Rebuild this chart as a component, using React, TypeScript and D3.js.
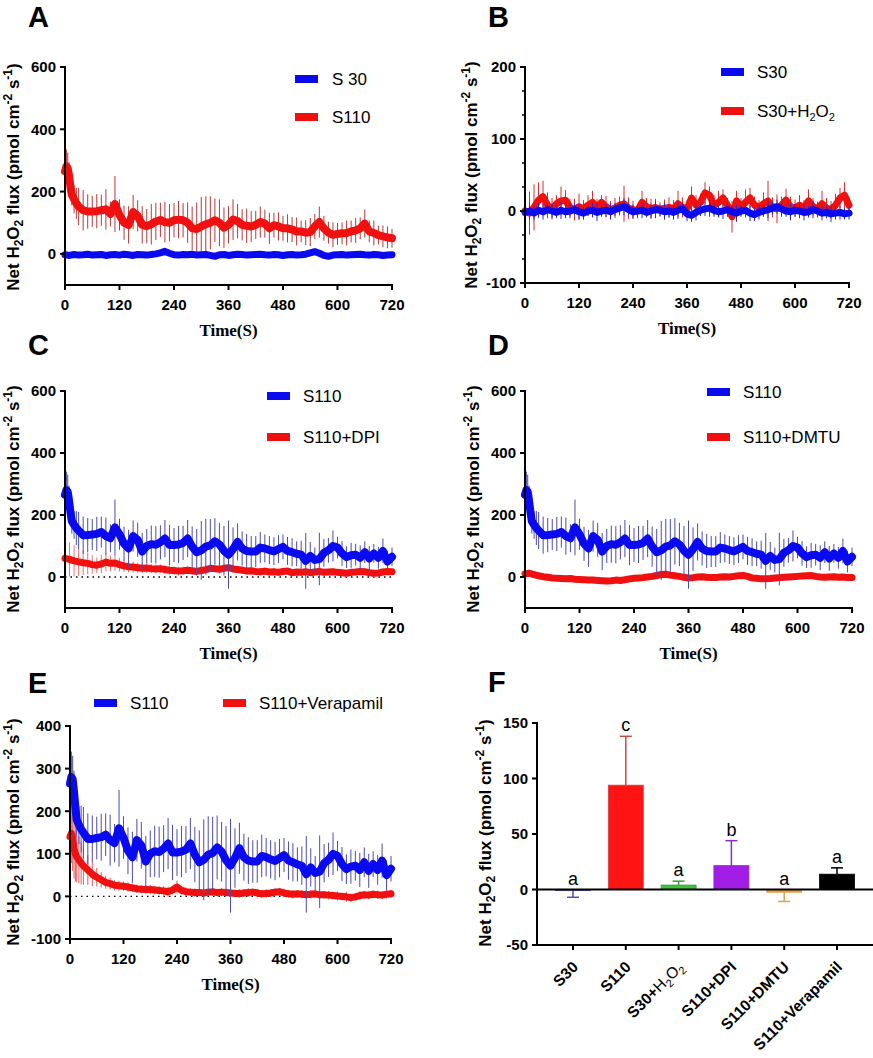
import React from 'react';
import * as d3 from 'd3';

const FONT = "'Liberation Sans', Arial, Helvetica, sans-serif";
const SERIF = "'Liberation Serif', 'Times New Roman', serif";

// time grids (s)
const T_FINE = [0, 3, 6, 9, 12, 15, 20, 25, 30, ...d3.range(40, 721, 10)];
const T10 = d3.range(0, 721, 10);
const X_TICKS = [0, 120, 240, 360, 480, 600, 720];

// Panel A
const A_S30 = [
  -3, -5, -2, -4, -3, -1, -4, -3, -2, -5,
  -3, -2, -4, -1, -3, -5, -2, -3, -4, -2,
  0, 3, 8, 2, -3, -4, -2, -3, -1, -4,
  -3, -2, -5, -8, -3, -2, -5, -3, -1, -2,
  -4, -3, -2, -1, -3, -4, -2, -3, -5, -3,
  -2, -4, -3, -1, 3, 7, 2, -5, -8, -4,
  -3, -2, -4, -3, -2, -1, -3, -4, -2, -3,
  -5, -4, -3,
];
const A_S110 = [
  265, 280, 275, 250, 215, 190, 175, 162, 152,
  140, 136, 136, 137, 140, 143, 128, 160, 125, 100,
  93, 134, 122, 93, 89, 95, 104, 109, 102, 100,
  108, 110, 108, 100, 82, 80, 88, 95, 100, 108,
  100, 84, 93, 110, 105, 93, 90, 88, 93, 102,
  97, 82, 92, 88, 82, 82, 78, 72, 72, 68,
  70, 88, 102, 82, 68, 61, 64, 66, 67, 72,
  75, 82, 97, 72, 67, 60, 56, 53, 50,
];
const A_S110_SD = [
  60, 55, 50, 45, 40, 35, 45, 50, 60,
  65, 55, 50, 55, 50, 65, 40, 90, 50, 55,
  60, 55, 50, 60, 55, 65, 60, 55, 65, 60,
  55, 60, 55, 65, 70, 85, 95, 90, 85, 70,
  75, 65, 60, 65, 55, 50, 55, 50, 45, 50,
  45, 50, 40, 45, 40, 45, 40, 45, 35, 40,
  45, 40, 50, 40, 35, 40, 35, 35, 40, 35,
  40, 35, 45, 35, 40, 30, 35, 35, 30,
];

// Panel B
const B_S30 = [
  -2, 0, -3, 1, -1, 2, 0, -2, 1, -1,
  0, 2, -1, -3, 0, 1, -2, 0, 1, -1,
  2, 4, 6, 2, -1, 0, 1, -2, 0, 2,
  1, -1, 0, -2, 1, 3, -4, -6, -2, 1,
  3, 4, 1, -1, 0, 2, -1, -3, 0, 1,
  -3, -5, -2, 0, 2, 4, 6, 3, 0, -1,
  1, 0, -2, -1, 2, 0, -3, -2, -4, -3,
  -2, -4, -3,
];
const B_S30_SD = [
  8, 12, 10, 9, 11, 7, 10, 8, 12, 9,
  10, 8, 11, 9, 7, 10, 12, 8, 9, 11,
  9, 10, 12, 8, 10, 9, 11, 7, 10, 12,
  8, 11, 9, 10, 12, 8, 10, 9, 11, 8,
  10, 12, 9, 8, 11, 10, 9, 12, 8, 10,
  11, 9, 10, 8, 12, 9, 10, 11, 8, 12,
  9, 10, 11, 8, 12, 9, 10, 8, 11, 9,
  10, 8, 9,
];
const B_H2O2 = [
  0, -3, 5, 15, 20, 8, 3, 10, 14, 15,
  5, 2, 6, 3, 8, 12, 5, 12, 6, 2,
  4, 8, 10, 4, 2, 0, 12, 6, 3, 5,
  2, 4, 5, 3, 10, 5, 3, 18, 8, 12,
  25, 22, 8, 12, 18, 8, -8, 14, 6, 12,
  18, 8, 5, 10, 14, 5, 3, 8, 15, 6,
  4, 8, 5, 14, 6, 3, 10, 4, 2, 8,
  18, 22, 8,
];
const B_H2O2_SD = [
  15, 30, 32, 25, 22, 18, 15, 12, 20, 14,
  12, 15, 18, 12, 14, 16, 12, 10, 15, 12,
  14, 12, 25, 15, 12, 10, 16, 12, 14, 12,
  10, 12, 14, 12, 18, 14, 12, 16, 14, 12,
  15, 12, 14, 16, 12, 10, 22, 14, 12, 18,
  14, 12, 10, 16, 28, 14, 20, 12, 16, 14,
  12, 14, 10, 16, 12, 10, 18, 14, 12, 16,
  14, 18, 12,
];

// Panels C, D, E (shared S110)
const S110 = [
  265, 280, 275, 245, 210, 180, 168, 158, 150,
  135, 135, 137, 139, 145, 132, 125, 160, 138, 107,
  92, 132, 120, 82, 100, 106, 104, 112, 124, 103,
  103, 105, 110, 124, 98, 80, 86, 98, 102, 115,
  105, 85, 72, 90, 113, 92, 84, 82, 82, 95,
  92, 87, 83, 90, 97, 84, 80, 75, 72, 52,
  68, 55, 58, 78, 86, 100, 95, 76, 64, 70,
  72, 62, 80, 60, 76, 62, 84, 50, 65,
];
const S110_SD = [
  60, 60, 55, 50, 45, 40, 45, 55, 60,
  60, 55, 50, 55, 50, 60, 45, 90, 50, 55,
  60, 50, 55, 60, 55, 60, 60, 55, 60, 65,
  55, 60, 55, 60, 65, 75, 95, 90, 85, 75,
  70, 80, 110, 70, 60, 55, 55, 50, 50, 50,
  45, 45, 45, 45, 40, 45, 45, 40, 45, 90,
  45, 40, 85, 45, 40, 50, 35, 40, 35, 40,
  35, 40, 35, 40, 30, 35, 40, 35, 30,
];
const C_DPI = [
  60, 57, 52, 49, 46, 44, 40, 38, 42, 48,
  44, 45, 40, 36, 33, 32, 30, 28, 29, 27,
  26, 27, 24, 22, 21, 19, 20, 22, 20, 18,
  21, 24, 28, 27, 25, 28, 30, 26, 24, 22,
  19, 20, 18, 17, 19, 16, 17, 15, 18, 19,
  14, 16, 15, 17, 14, 16, 18, 15, 16, 17,
  15, 14, 12, 15, 16, 18, 17, 14, 12, 13,
  16, 18, 17,
];
const C_DPI_SD = [
  55, 55, 50, 45, 40, 35, 30, 25, 30, 30,
  25, 25, 22, 20, 18, 18, 16, 15, 16, 15,
  15, 14, 15, 14, 13, 14, 13, 12, 13, 12,
  12, 13, 12, 12, 13, 12, 12, 11, 12, 12,
  11, 12, 11, 12, 11, 10, 11, 12, 11, 10,
  11, 10, 12, 11, 10, 11, 10, 11, 10, 11,
  10, 11, 10, 11, 10, 11, 10, 10, 11, 10,
  11, 10, 10,
];
const D_DMTU = [
  10, 12, 8, 4, 1, -1, -3, -4, -5, -6,
  -5, -7, -8, -9, -10, -10, -11, -12, -13, -12,
  -10, -11, -9, -6, -4, -3, -2, 0, 2, 5,
  8, 9, 6, 4, 2, -1, -3, -2, 0, 1,
  -1, -2, -2, 0, 1, 0, 2, 4, 5, 2,
  -3, -4, -6, -6, -5, -3, -2, -1, 0, 1,
  2, 3, 4, 5, 2, 0, -1, 0, 1, -1,
  0, -2, -2,
];
const D_DMTU_SD = [
  14, 12, 11, 10, 10, 9, 10, 9, 10, 9,
  10, 9, 10, 9, 10, 9, 10, 9, 10, 9,
  9, 10, 8, 9, 10, 9, 11, 9, 10, 9,
  10, 9, 10, 9, 8, 9, 10, 9, 10, 9,
  10, 9, 10, 9, 10, 9, 10, 9, 10, 9,
  9, 10, 9, 11, 10, 9, 10, 9, 10, 9,
  10, 9, 10, 9, 10, 9, 10, 9, 10, 9,
  10, 9, 10,
];
const E_VER = [
  140, 148, 135, 112, 100, 93, 86, 78, 72,
  62, 52, 45, 39, 33, 30, 26, 25, 24, 22,
  20, 18, 17, 16, 16, 15, 14, 13, 11, 15,
  22, 14, 11, 10, 9, 9, 8, 10, 11, 9,
  10, 9, 8, 7, 7, 8, 9, 10, 8, 6,
  7, 8, 10, 11, 8, 6, 5, 6, 5, 4,
  5, 6, 4, 4, 3, 2, 1, 0, -1, -3,
  -1, 2, 4, 3, 5, 4, 3, 5, 6,
];
const E_VER_SD = [
  60, 70, 75, 70, 65, 60, 55, 50, 45,
  35, 28, 22, 18, 15, 14, 12, 12, 11, 11,
  10, 10, 10, 10, 11, 10, 10, 11, 12, 10,
  15, 10, 10, 9, 10, 9, 10, 9, 10, 9,
  10, 9, 10, 9, 10, 9, 10, 9, 10, 9,
  10, 9, 10, 9, 10, 9, 10, 9, 10, 9,
  10, 9, 10, 9, 10, 9, 10, 9, 12, 10,
  9, 10, 9, 10, 9, 10, 9, 10, 9,
];

// Panel F
const F_CATS = ['S30', 'S110', 'S30+H2O2', 'S110+DPI', 'S110+DMTU', 'S110+Verapamil'];
const F_MEAN = [-1, 94, 4, 21.5, -2.5, 13.8];
const F_SD = [6, 44, 3.5, 22.5, 8.3, 5.7];
const F_LETTERS = ['a', 'c', 'a', 'b', 'a', 'a'];
const F_FILL = ['#3a3ad0', '#ff1414', '#3cc43c', '#a21ee6', '#ff9d1a', '#000000'];
const F_ERR = ['#5050b0', '#c44a4a', '#3a9a3a', '#8a2ad0', '#d9a050', '#000000'];

const BLUE = '#0a0af0';
const RED = '#f01010';

type Series = { t: number[]; mean: number[]; sd?: number[]; color: string; err: string; w: number };

function YLabel({ x, y }: { x: number; y: number }) {
  return (
    <text transform={`translate(${x},${y}) rotate(-90)`} textAnchor="middle" fontFamily={FONT} fontWeight="bold" fontSize={17}>
      Net H<tspan dy={4} fontSize={12}>2</tspan>
      <tspan dy={-4}>O</tspan>
      <tspan dy={4} fontSize={12}>2</tspan>
      <tspan dy={-4}> flux (pmol cm</tspan>
      <tspan dy={-7} fontSize={12}>-2</tspan>
      <tspan dy={7}> s</tspan>
      <tspan dy={-7} fontSize={12}>-1</tspan>
      <tspan dy={7}>)</tspan>
    </text>
  );
}

function H2O2({ size = 11 }: { size?: number }) {
  return (
    <>
      H<tspan dy={4} fontSize={size}>2</tspan>
      <tspan dy={-4}>O</tspan>
      <tspan dy={4} fontSize={size}>2</tspan>
    </>
  );
}

type Legend = { label: React.ReactNode; color: string; sx: number; sy: number; tx: number };

type PanelProps = {
  x0: number; x1: number; yTop: number; yBot: number; domain: [number, number];
  ticks: number[]; minor?: number[]; series: Series[]; zero?: boolean;
  letter: string; letterX: number; letterY: number; ylabX: number; ylabY: number; legend: Legend[];
};

function TimePanel(p: PanelProps) {
  const xs = d3.scaleLinear().domain([0, 720]).range([p.x0, p.x1]);
  const ys = d3.scaleLinear().domain(p.domain).range([p.yBot, p.yTop]);
  return (
    <g>
      <text x={p.letterX} y={p.letterY} fontFamily={FONT} fontWeight="bold" fontSize={29}>{p.letter}</text>
      {p.zero && (
        <line x1={xs(0)} x2={xs(720)} y1={ys(0)} y2={ys(0)} stroke="#000" strokeWidth={1.3} strokeDasharray="1.5,4" />
      )}
      {p.series.map((s, k) => {
        const line = d3.line<number>().x((_, i) => xs(s.t[i])).y((d) => ys(d));
        return (
          <g key={k}>
            {s.sd && s.mean.map((m, i) => (
              <line key={i} x1={xs(s.t[i])} x2={xs(s.t[i])} y1={ys(m - s.sd![i])} y2={ys(m + s.sd![i])} stroke={s.err} strokeWidth={1} />
            ))}
            <path d={line(s.mean) || ''} fill="none" stroke={s.color} strokeWidth={s.w} strokeLinejoin="round" strokeLinecap="round" />
          </g>
        );
      })}
      {/* axes */}
      <line x1={p.x0} x2={p.x0} y1={p.yTop - 1} y2={p.yBot + 1} stroke="#000" strokeWidth={2} />
      <line x1={p.x0 - 1} x2={p.x1 + 1} y1={p.yBot} y2={p.yBot} stroke="#000" strokeWidth={2} />
      {p.ticks.map((t) => (
        <g key={t}>
          <line x1={p.x0 - 5} x2={p.x0} y1={ys(t)} y2={ys(t)} stroke="#000" strokeWidth={2} />
          <text x={p.x0 - 9} y={ys(t)} dy="0.36em" textAnchor="end" fontFamily={FONT} fontWeight="bold" fontSize={15}>{t}</text>
        </g>
      ))}
      {(p.minor || []).map((t, i) => (
        <line key={i} x1={p.x0 - 3} x2={p.x0} y1={ys(t)} y2={ys(t)} stroke="#000" strokeWidth={1.5} />
      ))}
      {X_TICKS.map((t) => (
        <g key={t}>
          <line x1={xs(t)} x2={xs(t)} y1={p.yBot} y2={p.yBot + 5} stroke="#000" strokeWidth={2} />
          <text x={xs(t)} y={p.yBot + 25} textAnchor="middle" fontFamily={FONT} fontWeight="bold" fontSize={15}>{t}</text>
        </g>
      ))}
      <text x={(p.x0 + p.x1) / 2} y={p.yBot + 51} textAnchor="middle" fontFamily={SERIF} fontWeight="bold" fontSize={17}>Time(S)</text>
      <YLabel x={p.ylabX} y={p.ylabY} />
      {p.legend.map((l, i) => (
        <g key={i}>
          <rect x={l.sx} y={l.sy - 4} width={23} height={8} fill={l.color} />
          <text x={l.tx} y={l.sy + 6} fontFamily={FONT} fontSize={17}>{l.label}</text>
        </g>
      ))}
    </g>
  );
}

function BarPanel() {
  const x0 = 537, x1 = 873, yTop = 723, yBot = 945;
  const xb = d3.scaleBand<string>().domain(F_CATS).range([x0, x1]).paddingInner(0.337).paddingOuter(0.35);
  const ys = d3.scaleLinear().domain([-50, 150]).range([yBot, yTop]);
  const bw = xb.bandwidth();
  return (
    <g>
      <text x={488} y={692} fontFamily={FONT} fontWeight="bold" fontSize={29}>F</text>
      {F_CATS.map((c, i) => {
        const cx = xb(c)! + bw / 2;
        const m = F_MEAN[i];
        const e = m >= 0 ? m + F_SD[i] : m - F_SD[i];
        const top = Math.max(0, m, e);
        return (
          <g key={c}>
            <line x1={cx} x2={cx} y1={ys(m)} y2={ys(e)} stroke={F_ERR[i]} strokeWidth={1.5} />
            <line x1={cx - 6} x2={cx + 6} y1={ys(e)} y2={ys(e)} stroke={F_ERR[i]} strokeWidth={1.5} />
            <rect x={xb(c)!} width={bw} y={ys(Math.max(0, m))} height={Math.abs(ys(m) - ys(0))} fill={F_FILL[i]} stroke={F_ERR[i]} strokeWidth={0.8} />
            <text x={cx} y={ys(top) - 5} textAnchor="middle" fontFamily={FONT} fontSize={18}>{F_LETTERS[i]}</text>
          </g>
        );
      })}
      <line x1={x0} x2={x1} y1={ys(0)} y2={ys(0)} stroke="#000" strokeWidth={2} />
      <line x1={x0} x2={x0} y1={yTop - 1} y2={yBot + 1} stroke="#000" strokeWidth={2} />
      <line x1={x0 - 1} x2={x1} y1={yBot} y2={yBot} stroke="#000" strokeWidth={2} />
      {[-50, 0, 50, 100, 150].map((t) => (
        <g key={t}>
          <line x1={x0 - 5} x2={x0} y1={ys(t)} y2={ys(t)} stroke="#000" strokeWidth={2} />
          <text x={x0 - 9} y={ys(t)} dy="0.36em" textAnchor="end" fontFamily={FONT} fontWeight="bold" fontSize={15}>{t}</text>
        </g>
      ))}
      {F_CATS.map((c) => {
        const cx = xb(c)! + bw / 2;
        return (
          <g key={c}>
            <line x1={cx} x2={cx} y1={yBot} y2={yBot + 5} stroke="#000" strokeWidth={2} />
            <text transform={`translate(${cx + 6},${yBot + 23}) rotate(-45)`} textAnchor="end" fontFamily={FONT} fontWeight="bold" fontSize={15.5}>
              {c === 'S30+H2O2' ? (
                <>S30+<tspan fontWeight="normal"><H2O2 size={11} /></tspan></>
              ) : c}
            </text>
          </g>
        );
      })}
      <YLabel x={491} y={833} />
    </g>
  );
}

export default function App() {
  return (
    <svg width={873} height={1058} style={{ position: 'absolute', left: 0, top: 0, background: '#fff' }}>
      <rect width={873} height={1058} fill="#fff" />
      <TimePanel
        x0={65} x1={392} yTop={67} yBot={285} domain={[-100, 600]} ticks={[0, 200, 400, 600]}
        letter="A" letterX={28} letterY={27} ylabX={19} ylabY={177}
        series={[
          { t: T_FINE, mean: A_S110, sd: A_S110_SD, color: RED, err: '#b83a3a', w: 8 },
          { t: T10, mean: A_S30, color: BLUE, err: BLUE, w: 7 },
        ]}
        legend={[
          { label: 'S 30', color: BLUE, sx: 295, sy: 79, tx: 332 },
          { label: 'S110', color: RED, sx: 295, sy: 117, tx: 332 },
        ]}
      />
      <TimePanel
        x0={525} x1={849} yTop={67} yBot={283} domain={[-100, 200]} ticks={[-100, 0, 100, 200]}
        minor={[-66.67, -33.33, 33.33, 66.67, 133.33, 166.67]}
        letter="B" letterX={488} letterY={27} ylabX={477} ylabY={175}
        series={[
          { t: T10, mean: B_H2O2, sd: B_H2O2_SD, color: RED, err: '#d83030', w: 7 },
          { t: T10, mean: B_S30, sd: B_S30_SD, color: BLUE, err: '#2a2ad8', w: 7 },
        ]}
        legend={[
          { label: 'S30', color: BLUE, sx: 721, sy: 72, tx: 757 },
          { label: <>S30+<H2O2 /></>, color: RED, sx: 721, sy: 111, tx: 757 },
        ]}
      />
      <TimePanel
        x0={65} x1={392} yTop={391} yBot={608} domain={[-100, 600]} ticks={[0, 200, 400, 600]} zero
        letter="C" letterX={28} letterY={355} ylabX={19} ylabY={499}
        series={[
          { t: T10, mean: C_DPI, sd: C_DPI_SD, color: RED, err: '#f07070', w: 7 },
          { t: T_FINE, mean: S110, sd: S110_SD, color: BLUE, err: '#4c4cae', w: 8 },
        ]}
        legend={[
          { label: 'S110', color: BLUE, sx: 267, sy: 396, tx: 303 },
          { label: 'S110+DPI', color: RED, sx: 267, sy: 437, tx: 303 },
        ]}
      />
      <TimePanel
        x0={525} x1={852} yTop={391} yBot={608} domain={[-100, 600]} ticks={[0, 200, 400, 600]}
        letter="D" letterX={488} letterY={355} ylabX={479} ylabY={499}
        series={[
          { t: T10, mean: D_DMTU, sd: D_DMTU_SD, color: RED, err: '#f07070', w: 7 },
          { t: T_FINE, mean: S110, sd: S110_SD, color: BLUE, err: '#4c4cae', w: 8 },
        ]}
        legend={[
          { label: 'S110', color: BLUE, sx: 707, sy: 392, tx: 743 },
          { label: 'S110+DMTU', color: RED, sx: 707, sy: 437, tx: 743 },
        ]}
      />
      <TimePanel
        x0={70} x1={391} yTop={726} yBot={939} domain={[-100, 400]} ticks={[-100, 0, 100, 200, 300, 400]} zero
        letter="E" letterX={28} letterY={693} ylabX={19} ylabY={832}
        series={[
          { t: T_FINE, mean: E_VER, sd: E_VER_SD, color: RED, err: '#e85a5a', w: 7 },
          { t: T_FINE, mean: S110, sd: S110_SD, color: BLUE, err: '#4c4cae', w: 8 },
        ]}
        legend={[
          { label: 'S110', color: BLUE, sx: 94, sy: 703, tx: 130 },
          { label: 'S110+Verapamil', color: RED, sx: 223, sy: 703, tx: 259 },
        ]}
      />
      <BarPanel />
    </svg>
  );
}
